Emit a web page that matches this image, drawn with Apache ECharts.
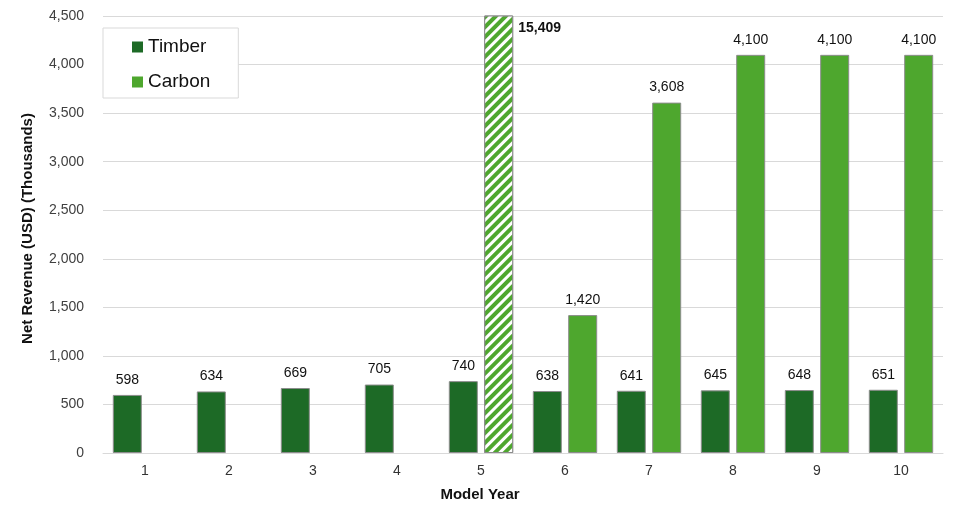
<!DOCTYPE html>
<html>
<head>
<meta charset="utf-8">
<script src="https://cdn.jsdelivr.net/npm/echarts@6/dist/echarts.min.js"></script>
<style>
html,body{margin:0;padding:0;background:#fff;}
#chart{width:958px;height:514px;}
</style>
</head>
<body>
<div id="chart"></div>
<script>
var years = ['1','2','3','4','5','6','7','8','9','10'];
var timber = [598, 634, 669, 705, 740, 638, 641, 645, 648, 651];
var carbon = [null, null, null, null, 15409, 1420, 3608, 4100, 4100, 4100];
var yTicks = { min: 0, max: 4500, interval: 500 };

var TIMBER_COLOR = '#1d6a26';
var CARBON_COLOR = '#4ea72e';
var fmt = function (v) { return Number(v).toLocaleString('en-US'); };

var carbonData = carbon.map(function (v) {
  if (v !== null && v > yTicks.max) {
    return {
      value: v,
      itemStyle: {
        decal: {
          symbol: 'rect', symbolSize: 1, color: '#ffffff',
          dashArrayX: [1, 0], dashArrayY: [3, 3.5], rotation: -Math.PI / 4
        }
      },
      label: {
        position: ['100%', 0], offset: [5, 6], align: 'left', verticalAlign: 'top',
        fontWeight: 'bold', color: '#111'
      }
    };
  }
  return v === null ? '-' : v;
});

var chart = echarts.init(document.getElementById('chart'));
chart.setOption({
  backgroundColor: '#ffffff',
  animation: false,
  textStyle: { fontFamily: 'Liberation Sans, Arial, sans-serif' },
  grid: { left: 103, right: 15, top: 16, bottom: 61, containLabel: false },
  legend: {
    orient: 'vertical', left: 103, top: 28,
    padding: [9, 28, 6, 29], itemGap: 15, itemWidth: 11, itemHeight: 11,
    backgroundColor: '#fff', borderColor: '#d9d9d9', borderWidth: 1,
    itemStyle: { borderWidth: 0 },
    textStyle: { fontSize: 19, color: '#111', lineHeight: 20 },
    data: [{ name: 'Timber', icon: 'rect' }, { name: 'Carbon', icon: 'rect' }]
  },
  xAxis: {
    type: 'category', data: years,
    name: 'Model Year', nameLocation: 'middle', nameGap: 34,
    nameTextStyle: { fontSize: 15, fontWeight: 'bold', color: '#111', padding: [0, 86, 0, 0] },
    axisLine: { lineStyle: { color: '#d9d9d9' } },
    axisTick: { show: false },
    axisLabel: { fontSize: 14, color: '#333', margin: 11 }
  },
  yAxis: {
    type: 'value', min: yTicks.min, max: yTicks.max, interval: yTicks.interval,
    name: 'Net Revenue (USD) (Thousands)', nameLocation: 'middle', nameGap: 68,
    nameTextStyle: { fontSize: 15, fontWeight: 'bold', color: '#111', padding: [0, 0, 0, 12] },
    axisLine: { show: false }, axisTick: { show: false },
    splitLine: { lineStyle: { color: '#d9d9d9' } },
    axisLabel: { fontSize: 14, color: '#404040', margin: 19, formatter: fmt }
  },
  series: [
    {
      name: 'Timber', type: 'bar', data: timber,
      barWidth: 29, barGap: '22%',
      itemStyle: { color: TIMBER_COLOR, borderColor: '#8c8c8c', borderWidth: 1 },
      label: { show: true, position: 'top', distance: 8, fontSize: 14, color: '#111', formatter: function (p) { return fmt(p.value); } }
    },
    {
      name: 'Carbon', type: 'bar', data: carbonData,
      barWidth: 29,
      itemStyle: { color: CARBON_COLOR, borderColor: '#8c8c8c', borderWidth: 1 },
      label: { show: true, position: 'top', distance: 8, fontSize: 14, color: '#111', formatter: function (p) { return fmt(p.value); } }
    }
  ]
});
</script>
</body>
</html>
